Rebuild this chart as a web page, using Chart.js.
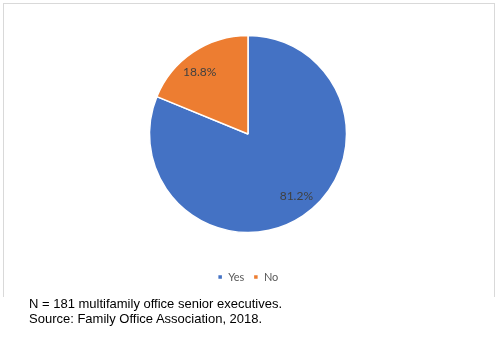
<!DOCTYPE html>
<html>
<head>
<meta charset="utf-8">
<script src="https://cdn.jsdelivr.net/npm/chart.js@4/dist/chart.umd.min.js"></script>
<style>
  body { margin: 0; background: #fff; width: 500px; height: 340px; position: relative; overflow: hidden; }
  #box {
    position: absolute; left: 3px; top: 3px; width: 490px; height: 293px;
    border: 1px solid #d9d9d9; border-bottom: none;
  }
  #chart { display: block; }
  .note {
    position: absolute; left: 29px; top: 296px;
    font-family: "Liberation Sans", Arial, sans-serif; font-size: 13px; line-height: 15px; color: #000;
  }
</style>
</head>
<body>
<div id="box"><canvas id="chart" width="490" height="293"></canvas></div>
<div class="note">N = 181 multifamily office senior executives.<br>Source: Family Office Association, 2018.</div>
<script>
const categories = ['Yes', 'No'];
const shares = [81.2, 18.8];
const colors = ['#4472C4', '#ED7D31'];

// percentage text inside each slice, nudged a little counter-clockwise
const sliceLabels = {
  id: 'sliceLabels',
  afterDatasetsDraw(chart) {
    const ctx = chart.ctx;
    const arcs = chart.getDatasetMeta(0).data;
    ctx.save();
    ctx.font = '12px Lato, "Open Sans", sans-serif';
    ctx.fillStyle = '#404040';
    ctx.textAlign = 'center';
    ctx.textBaseline = 'middle';
    arcs.forEach((arc, i) => {
      const p = arc.getProps(['x', 'y', 'startAngle', 'endAngle', 'outerRadius'], true);
      const mid = (p.startAngle + p.endAngle) / 2 - 0.07;
      const r = p.outerRadius * 0.8;
      ctx.fillText(shares[i].toFixed(1) + '%', p.x + Math.cos(mid) * r, p.y + Math.sin(mid) * r);
    });
    ctx.restore();
  }
};

const chart = new Chart(document.getElementById('chart').getContext('2d'), {
  type: 'pie',
  data: {
    labels: categories,
    datasets: [{
      data: shares,
      backgroundColor: colors,
      borderColor: '#ffffff',
      borderWidth: 1.5
    }]
  },
  options: {
    responsive: false,
    animation: false,
    radius: 98.5,
    layout: { padding: { top: 1.5, bottom: 4.5, left: 0, right: 2 } },
    plugins: {
      tooltip: { enabled: false },
      legend: {
        position: 'bottom',
        labels: {
          boxWidth: 5,
          boxHeight: 5,
          padding: 9,
          color: '#595959',
          font: { size: 11, family: 'Lato, "Open Sans", sans-serif' }
        }
      }
    }
  },
  plugins: [sliceLabels]
});
</script>
</body>
</html>
